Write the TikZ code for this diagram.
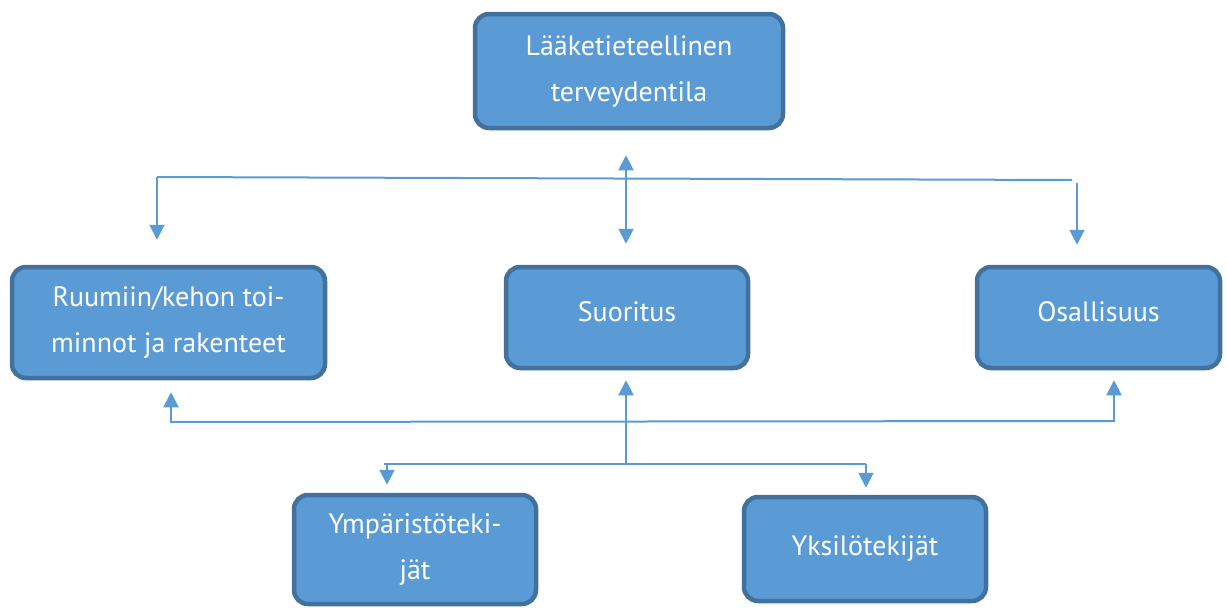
\documentclass[tikz,border=0pt]{standalone}
\usepackage{fontspec}
\setmainfont{PT Sans}
\usetikzlibrary{arrows.meta,positioning}
\definecolor{boxblue}{HTML}{5B9BD5}
\definecolor{edgeblue}{HTML}{41719C}

\tikzset{
  icfbox/.style={draw=edgeblue, line width=4.5pt, fill=boxblue, rounded corners=14pt,
    text=white, align=center, inner sep=0pt, font=\fontsize{28}{46}\selectfont},
  link/.style={draw=boxblue, line width=2pt},
  tip/.style={link, -{Triangle[width=15pt,length=15pt]}},
  twotip/.style={link, {Triangle[width=15pt,length=15pt]}-{Triangle[width=15pt,length=15pt]}},
}

\begin{document}
\begin{tikzpicture}[x=1pt,y=-1pt,line cap=butt]
    \useasboundingbox (0,0) rectangle (1227,608);
    % boxes
    \node[icfbox, minimum width=308pt, minimum height=114pt] (health) at (629,71) {Lääketieteellinen\\terveydentila};
    \node[icfbox, minimum width=313pt, minimum height=111pt] (body) at (168.5,322.5) {Ruumiin/kehon toi-\\minnot ja rakenteet};
    \node[icfbox, minimum width=242pt, minimum height=101pt, text depth=12pt] (activity) at (627,317.5) {Suoritus};
    \node[icfbox, minimum width=243pt, minimum height=101pt, text depth=12pt] (particip) at (1098.5,317.5) {Osallisuus};
    \node[icfbox, minimum width=242pt, minimum height=109pt] (environ) at (415,549.5) {Ympäristöteki-\\jät};
    \node[icfbox, minimum width=242pt, minimum height=104pt] (personal) at (865,549) {Yksilötekijät};

    % upper branch
    \coordinate (topleft) at (157,177);
    \coordinate (topright) at (1072,180);
    \coordinate (rightdrop) at (1077,183);
    \draw[link] (topleft) -- (topright);
    \draw[tip, shorten >=25pt] (topleft) -- (topleft |- body.north);
    \draw[tip, shorten >=20pt] (rightdrop) -- (rightdrop |- particip.north);
    \draw[twotip, shorten <=25pt, shorten >=21pt] ([xshift=-1pt]activity.north |- health.south) -- ([xshift=-1pt]activity.north);

    % lower branch
    \coordinate (lowleft) at (170,422);
    \coordinate (lowright) at (1115,421);
    \coordinate (hub) at (626,464);
    \coordinate (hubleft) at (384,464);
    \coordinate (hubright) at (866,464);
    \draw[link] (lowleft) -- (lowright);
    \draw[tip, shorten >=12pt] ([xshift=1pt]lowleft) -- ([xshift=1pt]lowleft |- body.south);
    \draw[tip, shorten >=10pt] ([xshift=-1pt]lowright) -- ([xshift=-1pt]lowright |- particip.south);
    \draw[tip, shorten >=10pt] (hub) -- (hub |- activity.south);
    \draw[link] (hubleft) -- (hubright);
    \draw[tip, shorten >=8pt] ([xshift=3pt]hubleft) -- ([xshift=3pt]hubleft |- environ.north);
    \draw[tip, shorten >=7pt] (hubright) -- (hubright |- personal.north);
\end{tikzpicture}
\end{document}
